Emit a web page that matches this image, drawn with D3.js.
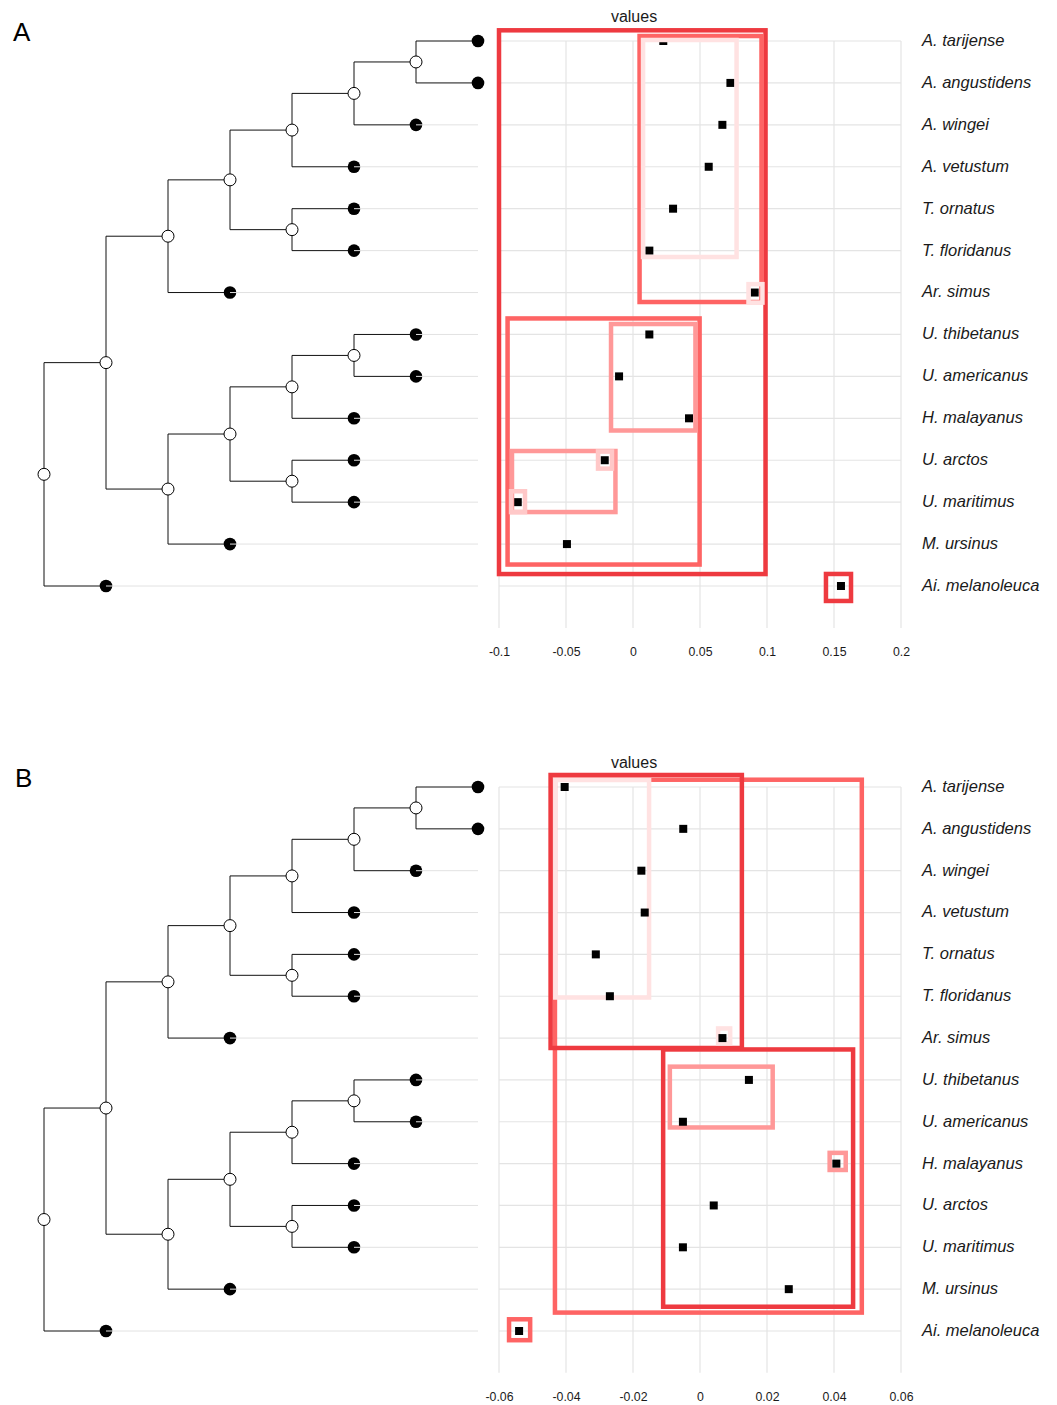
<!DOCTYPE html>
<html>
<head>
<meta charset="utf-8">
<script src="https://cdn.jsdelivr.net/npm/d3@7"></script>
<style>
  html, body { margin: 0; padding: 0; background: #fff; }
  svg { display: block; font-family: "Liberation Sans", Arial, Helvetica, sans-serif; }
</style>
</head>
<body>
<svg id="chart" width="1057" height="1405"></svg>
<script>
// ---------------- data ----------------
const species = [
  "A. tarijense", "A. angustidens", "A. wingei", "A. vetustum", "T. ornatus",
  "T. floridanus", "Ar. simus", "U. thibetanus", "U. americanus", "H. malayanus",
  "U. arctos", "U. maritimus", "M. ursinus", "Ai. melanoleuca"
];

// phylogeny (nested pairs of tip names)
const tree = [
  [
    [
      [
        [[["A. tarijense", "A. angustidens"], "A. wingei"], "A. vetustum"],
        ["T. ornatus", "T. floridanus"]
      ],
      "Ar. simus"
    ],
    [
      [
        [["U. thibetanus", "U. americanus"], "H. malayanus"],
        ["U. arctos", "U. maritimus"]
      ],
      "M. ursinus"
    ]
  ],
  "Ai. melanoleuca"
];

const valuesA = [0.0226, 0.0727, 0.0667, 0.0565, 0.0299, 0.0122, 0.0908,
                 0.0122, -0.0104, 0.0418, -0.0211, -0.0860, -0.0493, 0.1552];
const valuesB = [-0.0404, -0.0050, -0.0175, -0.0165, -0.0311, -0.0269, 0.0067,
                 0.0146, -0.0051, 0.0407, 0.0041, -0.0051, 0.0265, -0.0540];

const ticksA = [-0.1, -0.05, 0, 0.05, 0.1, 0.15, 0.2];
const tickLabelsA = ["-0.1", "-0.05", "0", "0.05", "0.1", "0.15", "0.2"];
const ticksB = [-0.06, -0.04, -0.02, 0, 0.02, 0.04, 0.06];
const tickLabelsB = ["-0.06", "-0.04", "-0.02", "0", "0.02", "0.04", "0.06"];

// clade boxes: value range [lo, hi], row range [r0, r1], shade level (1 = strongest)
const boxesA = [
  { lo: -0.1000, hi: 0.0989, r0: -0.255, r1: 12.715, level: 1 },
  { lo: 0.0049, hi: 0.0959, r0: -0.119, r1: 6.226, level: 2 },
  { lo: 0.0075, hi: 0.0773, r0: -0.024, r1: 5.152, level: 5 },
  { lo: 0.0862, hi: 0.0966, r0: 5.800, r1: 6.240, level: 5 },
  { lo: 0.1440, hi: 0.1627, r0: 12.713, r1: 13.357, level: 1 },
  { lo: -0.0936, hi: 0.0497, r0: 6.618, r1: 12.488, level: 2 },
  { lo: -0.0164, hi: 0.0466, r0: 6.751, r1: 9.291, level: 3 },
  { lo: -0.0903, hi: -0.0131, r0: 9.780, r1: 11.236, level: 3 },
  { lo: -0.0261, hi: -0.0157, r0: 9.790, r1: 10.200, level: 4 },
  { lo: -0.0910, hi: -0.0806, r0: 10.740, r1: 11.236, level: 4 }
];
const boxesB = [
  { lo: -0.0433, hi: 0.0483, r0: -0.174, r1: 12.560, level: 2 },
  { lo: -0.0432, hi: -0.0152, r0: -0.167, r1: 5.030, level: 5 },
  { lo: -0.0446, hi: 0.0125, r0: -0.287, r1: 6.237, level: 1 },
  { lo: 0.0054, hi: 0.0090, r0: 5.770, r1: 6.120, level: 5 },
  { lo: -0.0110, hi: 0.0457, r0: 6.272, r1: 12.420, level: 1 },
  { lo: -0.0090, hi: 0.0217, r0: 6.683, r1: 8.136, level: 3 },
  { lo: 0.0387, hi: 0.0435, r0: 8.743, r1: 9.152, level: 3 },
  { lo: -0.0570, hi: -0.0507, r0: 12.720, r1: 13.220, level: 2 }
];

// ---------------- drawing ----------------
const shade = d3.scaleOrdinal()
  .domain([1, 2, 3, 4, 5])
  .range(["#ee3a40", "#fe6464", "#ff9898", "#ffc8c8", "#ffe2e2"]);

const svg = d3.select("#chart");
const font = "'Liberation Sans', Arial, Helvetica, sans-serif";

const treeX = d3.scaleLinear().domain([0, 7]).range([44, 478]);

function toHierarchy(n) {
  return Array.isArray(n) ? { children: n.map(toHierarchy) } : { name: n };
}

function drawPanel(cfg) {
  const g = svg.append("g");
  const row = d3.scaleLinear().domain([0, 13]).range(cfg.rowRange);
  const x = d3.scaleLinear().domain(cfg.domain).range([499, 901]);

  // panel letter
  g.append("text").attr("x", cfg.letterX).attr("y", cfg.rowRange[0])
    .attr("font-size", 26).attr("fill", "#000")
    .text(cfg.letter);

  // title
  g.append("text").attr("x", 634).attr("y", cfg.rowRange[0] - 19)
    .attr("text-anchor", "middle").attr("font-size", 16).attr("fill", "#1a1a1a")
    .text("values");

  // grid
  const grid = g.append("g");
  grid.selectAll("line.v").data(cfg.ticks).join("line")
    .attr("x1", d => x(d)).attr("x2", d => x(d))
    .attr("y1", row(0)).attr("y2", row(14))
    .attr("stroke", "#e4e4e4").attr("stroke-width", 1.2);
  grid.selectAll("line.h").data(species).join("line")
    .attr("x1", x(cfg.domain[0])).attr("x2", x(cfg.domain[1]))
    .attr("y1", (d, i) => row(i)).attr("y2", (d, i) => row(i))
    .attr("stroke", "#e4e4e4").attr("stroke-width", 1.2);

  // axis labels
  const axis = d3.axisBottom(x).tickValues(cfg.ticks)
    .tickFormat((d, i) => cfg.labels[i]).tickSize(0).tickPadding(19);
  const ag = g.append("g").attr("transform", `translate(0,${row(14)})`).call(axis);
  ag.select(".domain").remove();
  ag.selectAll("text").attr("font-size", 12.3).attr("font-family", font).attr("fill", "#1a1a1a");

  // tree
  const root = d3.hierarchy(toHierarchy(tree));
  root.eachAfter(n => {
    if (!n.children) n.yy = row(species.indexOf(n.data.name));
    else n.yy = d3.mean(n.children, c => c.yy);
    n.xx = treeX(n.depth);
  });
  const tg = g.append("g");
  tg.selectAll("path").data(root.links()).join("path")
    .attr("d", l => `M${l.source.xx},${l.source.yy}V${l.target.yy}H${l.target.xx}`)
    .attr("fill", "none").attr("stroke", "#111").attr("stroke-width", 1);
  tg.selectAll("circle.tip").data(root.leaves()).join("circle")
    .attr("cx", d => d.xx).attr("cy", d => d.yy).attr("r", 6.3).attr("fill", "#000");
  tg.selectAll("line.guide").data(root.leaves()).join("line")
    .attr("x1", d => d.xx).attr("x2", treeX(7))
    .attr("y1", d => d.yy).attr("y2", d => d.yy)
    .attr("stroke", "#e2e2e2").attr("stroke-width", 1);
  tg.selectAll("circle.node").data(root.descendants().filter(d => d.children)).join("circle")
    .attr("cx", d => d.xx).attr("cy", d => d.yy).attr("r", 6)
    .attr("fill", "#fff").attr("stroke", "#000").attr("stroke-width", 1);

  const pointLayer = g.append("g");
  const boxLayer = g.append("g");
  if (cfg.pointsOnTop) pointLayer.raise();

  // points
  pointLayer.selectAll("rect").data(cfg.values).join("rect")
    .attr("x", d => x(d) - 4).attr("y", (d, i) => row(i) - 4)
    .attr("width", 8).attr("height", 8).attr("fill", "#000");

  // boxes
  boxLayer.selectAll("rect").data(cfg.boxes).join("rect")
    .attr("x", d => x(d.lo)).attr("y", d => row(d.r0))
    .attr("width", d => x(d.hi) - x(d.lo)).attr("height", d => row(d.r1) - row(d.r0))
    .attr("fill", "none").attr("stroke", d => shade(d.level)).attr("stroke-width", 4.5);

  // species labels
  g.append("g").selectAll("text").data(species).join("text")
    .attr("x", 922).attr("y", (d, i) => row(i)).attr("dy", "0.3em")
    .attr("font-size", 16.5).attr("font-style", "italic").attr("fill", "#1a1a1a")
    .text(d => d);
}

drawPanel({ letter: "A", letterX: 13, rowRange: [41, 586], domain: [-0.1, 0.2],
  ticks: ticksA, labels: tickLabelsA, values: valuesA, boxes: boxesA, pointsOnTop: false });
drawPanel({ letter: "B", letterX: 15, rowRange: [787, 1331], domain: [-0.06, 0.06],
  ticks: ticksB, labels: tickLabelsB, values: valuesB, boxes: boxesB, pointsOnTop: true });
</script>
</body>
</html>
